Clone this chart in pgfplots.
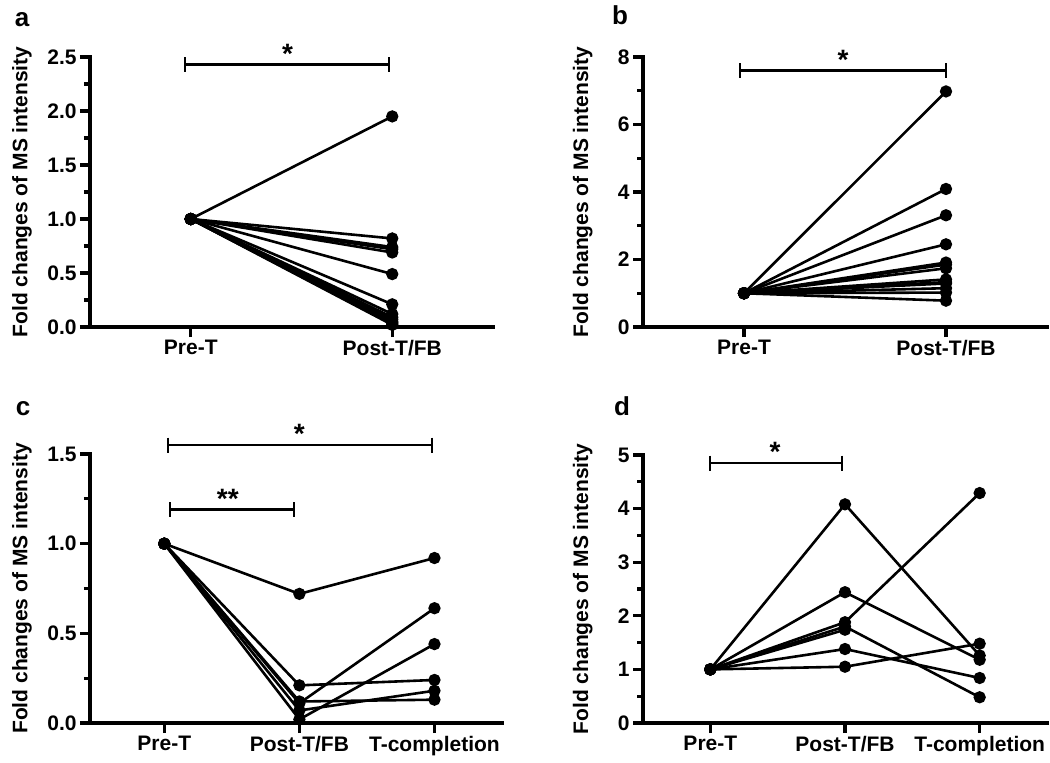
\documentclass[border=0pt]{standalone}
\usepackage{fontspec}
\setmainfont{Liberation Sans}
\usepackage{pgfplots}
\pgfplotsset{compat=1.18}

\pgfplotsset{
 gp/.style={
  scale only axis,
  clip=false,
  anchor=south west,
  axis x line=bottom, axis y line=left,
  axis line style={line width=2pt,-,line cap=rect},
  every tick/.style={line width=1.6pt, black},
  tick align=outside,
  major tick length=5pt, minor tick length=3pt,
  minor x tick num=0,
  tick label style={font=\fontsize{10.5}{12}\selectfont\bfseries, inner sep=1.5pt},
  /pgf/number format/assume math mode=true,
  label style={font=\fontsize{10.5}{12}\selectfont\bfseries},
  ylabel={Fold changes of MS intensity},
  ymin=0,
 },
 subj/.style={black, line width=1.3pt, mark=*, mark size=2.4pt, mark options={solid}},
 sig/.style={black, line width=1.1pt, mark=|, mark size=3.75pt, mark options={line width=1.1pt}},
}
\tikzset{sigstar/.style={font=\fontsize{14}{14}\selectfont\bfseries, anchor=south, inner sep=0.5pt}}

\begin{document}
\begin{tikzpicture}
\path[use as bounding box] (0,0) rectangle (525pt,381pt);

% ---------------- panel a
\begin{axis}[gp, at={(45pt,217.5pt)}, width=201.5pt, height=135pt,
  xmin=-0.5, xmax=1.5, ymax=2.5,
  ytick={0,0.5,1,1.5,2,2.5}, minor y tick num=1,
  xtick={0,1}, xticklabels={Pre-T,Post-T/FB},
  yticklabel style={/pgf/number format/.cd,fixed,fixed zerofill,precision=1},
  ylabel style={at={(axis description cs:-0.169,0.5)}, anchor=center}]
\addplot[subj] coordinates {(0,1)(1,1.95)};
\addplot[subj] coordinates {(0,1)(1,0.82)};
\addplot[subj] coordinates {(0,1)(1,0.74)};
\addplot[subj] coordinates {(0,1)(1,0.72)};
\addplot[subj] coordinates {(0,1)(1,0.69)};
\addplot[subj] coordinates {(0,1)(1,0.49)};
\addplot[subj] coordinates {(0,1)(1,0.21)};
\addplot[subj] coordinates {(0,1)(1,0.12)};
\addplot[subj] coordinates {(0,1)(1,0.09)};
\addplot[subj] coordinates {(0,1)(1,0.07)};
\addplot[subj] coordinates {(0,1)(1,0.05)};
\addplot[subj] coordinates {(0,1)(1,0.04)};
\addplot[subj] coordinates {(0,1)(1,0.03)};
\addplot[subj] coordinates {(0,1)(1,0.02)};
\addplot[sig] coordinates {(-0.03,2.43)(0.985,2.43)};
\node[sigstar] at (axis cs:0.48,2.43) {*};
\end{axis}

% ---------------- panel b
\begin{axis}[gp, at={(321.5pt,217.5pt)}, width=202pt, height=135pt,
  xmin=-0.5, xmax=1.5, ymax=8,
  ytick={0,2,4,6,8}, minor y tick num=1,
  xtick={0,1}, xticklabels={Pre-T,Post-T/FB},
  ylabel style={at={(axis description cs:-0.149,0.5)}, anchor=center}]
\addplot[subj] coordinates {(0,1)(1,6.98)};
\addplot[subj] coordinates {(0,1)(1,4.09)};
\addplot[subj] coordinates {(0,1)(1,3.31)};
\addplot[subj] coordinates {(0,1)(1,2.45)};
\addplot[subj] coordinates {(0,1)(1,1.91)};
\addplot[subj] coordinates {(0,1)(1,1.85)};
\addplot[subj] coordinates {(0,1)(1,1.74)};
\addplot[subj] coordinates {(0,1)(1,1.41)};
\addplot[subj] coordinates {(0,1)(1,1.33)};
\addplot[subj] coordinates {(0,1)(1,1.29)};
\addplot[subj] coordinates {(0,1)(1,1.15)};
\addplot[subj] coordinates {(0,1)(1,1.02)};
\addplot[subj] coordinates {(0,1)(1,0.78)};
\addplot[sig] coordinates {(-0.02,7.6)(1.0,7.6)};
\node[sigstar] at (axis cs:0.49,7.6) {*};
\end{axis}

% ---------------- panel c
\begin{axis}[gp, at={(45pt,19.5pt)}, width=206pt, height=134.5pt,
  xmin=-0.55, xmax=2.5, ymax=1.5,
  ytick={0,0.5,1,1.5}, minor y tick num=1,
  xtick={0,1,2}, xticklabels={Pre-T,Post-T/FB,T-completion},
  yticklabel style={/pgf/number format/.cd,fixed,fixed zerofill,precision=1},
  ylabel style={at={(axis description cs:-0.165,0.5)}, anchor=center}]
\addplot[subj] coordinates {(0,1)(1,0.72)(2,0.92)};
\addplot[subj] coordinates {(0,1)(1,0.21)(2,0.24)};
\addplot[subj] coordinates {(0,1)(1,0.11)(2,0.64)};
\addplot[subj] coordinates {(0,1)(1,0.02)(2,0.44)};
\addplot[subj] coordinates {(0,1)(1,0.12)(2,0.13)};
\addplot[subj] coordinates {(0,1)(1,0.07)(2,0.18)};
\addplot[sig] coordinates {(0.03,1.55)(1.98,1.55)};
\node[sigstar] at (axis cs:1.0,1.55) {*};
\addplot[sig] coordinates {(0.04,1.19)(0.96,1.19)};
\node[sigstar] at (axis cs:0.47,1.19) {**};
\end{axis}

% ---------------- panel d
\begin{axis}[gp, at={(321.5pt,19.5pt)}, width=202pt, height=134pt,
  xmin=-0.5, xmax=2.5, ymax=5,
  ytick={0,1,2,3,4,5}, minor y tick num=1,
  xtick={0,1,2}, xticklabels={Pre-T,Post-T/FB,T-completion},
  ylabel style={at={(axis description cs:-0.149,0.5)}, anchor=center}]
\addplot[subj] coordinates {(0,1)(1,4.08)(2,1.26)};
\addplot[subj] coordinates {(0,1)(1,2.44)(2,1.18)};
\addplot[subj] coordinates {(0,1)(1,1.88)(2,4.29)};
\addplot[subj] coordinates {(0,1)(1,1.80)(2,0.48)};
\addplot[subj] coordinates {(0,1)(1,1.74)};
\addplot[subj] coordinates {(0,1)(1,1.38)(2,0.84)};
\addplot[subj] coordinates {(0,1)(1,1.05)(2,1.48)};
\addplot[sig] coordinates {(0,4.85)(0.98,4.85)};
\node[sigstar] at (axis cs:0.48,4.85) {*};
\end{axis}

% panel letters
\node[font=\fontsize{13}{13}\selectfont\bfseries] at (11pt,371pt) {a};
\node[font=\fontsize{13}{13}\selectfont\bfseries] at (310pt,373.5pt) {b};
\node[font=\fontsize{13}{13}\selectfont\bfseries] at (11.5pt,176.5pt) {c};
\node[font=\fontsize{13}{13}\selectfont\bfseries] at (311pt,178pt) {d};
\end{tikzpicture}
\end{document}
